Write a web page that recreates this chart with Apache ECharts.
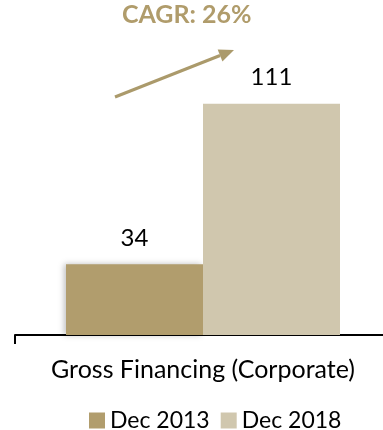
<!DOCTYPE html>
<html>
<head>
<meta charset="utf-8">
<script src="https://cdn.jsdelivr.net/npm/echarts@6/dist/echarts.min.js"></script>
<style>
  html, body { margin: 0; padding: 0; background: #ffffff; }
  #chart { width: 383px; height: 430px; }
</style>
</head>
<body>
<div id="chart"></div>
<script>
// Gross financing, corporate segment
const categories = ['Gross Financing (Corporate)'];
const seriesNames = ['Dec 2013', 'Dec 2018'];
const values2013 = [34];
const values2018 = [111];
const cagrText = 'CAGR: 26%';

const FONT = 'Lato';
const chart = echarts.init(document.getElementById('chart'), null, { renderer: 'canvas' });

// Arrow geometry for the growth annotation
const arrowFrom = [115, 97];
const arrowTo = [234, 50];
const headLen = 15, headHalf = 6.5;
const dx = arrowTo[0] - arrowFrom[0], dy = arrowTo[1] - arrowFrom[1];
const len = Math.hypot(dx, dy);
const ux = dx / len, uy = dy / len;
const bx = arrowTo[0] - ux * headLen, by = arrowTo[1] - uy * headLen;
const px = -uy * headHalf, py = ux * headHalf;

const option = {
  animation: false,
  textStyle: { fontFamily: FONT },
  // the plot runs a little past the right edge so the category is centred at x≈203
  grid: { left: 15, width: 376, top: 85, bottom: 95, outerBoundsMode: 'none' },
  xAxis: {
    type: 'category',
    data: categories,
    axisLine: { show: true, lineStyle: { color: '#000000', width: 2 } },
    axisTick: { show: true, length: 9, lineStyle: { color: '#000000', width: 2 } },
    axisLabel: { color: '#000000', fontSize: 25, fontFamily: FONT, margin: 22 }
  },
  yAxis: {
    type: 'value', min: 0, max: 120, show: false,
    splitLine: { show: false }
  },
  legend: {
    data: seriesNames,
    left: 84, top: 404,
    itemWidth: 16, itemHeight: 16, itemGap: 11,
    icon: 'rect',
    textStyle: { color: '#000000', fontSize: 23, fontFamily: FONT }
  },
  series: [
    {
      name: seriesNames[0], type: 'bar', data: values2013,
      barWidth: 137, barGap: '0%',
      itemStyle: { color: '#b19d6d', shadowColor: 'rgba(0,0,0,0.25)', shadowBlur: 6, shadowOffsetX: -2 },
      label: { show: true, position: 'top', distance: 14, color: '#000000', fontSize: 24, fontFamily: FONT }
    },
    {
      name: seriesNames[1], type: 'bar', data: values2018,
      barWidth: 137, barGap: '0%',
      itemStyle: { color: '#d0c7ae' },
      label: { show: true, position: 'top', distance: 14, color: '#000000', fontSize: 24, fontFamily: FONT }
    }
  ],
  graphic: [
    {
      type: 'text', left: 122, top: 2,
      style: { text: cagrText, fill: '#b09c6b', font: 'bold 25px ' + FONT }
    },
    {
      type: 'line',
      shape: { x1: arrowFrom[0], y1: arrowFrom[1], x2: bx, y2: by },
      style: { stroke: '#ab9a6b', lineWidth: 3 }
    },
    {
      type: 'polygon',
      shape: { points: [[arrowTo[0], arrowTo[1]], [bx + px, by + py], [bx - px, by - py]] },
      style: { fill: '#ab9a6b' }
    }
  ]
};
chart.setOption(option);
</script>
</body>
</html>
